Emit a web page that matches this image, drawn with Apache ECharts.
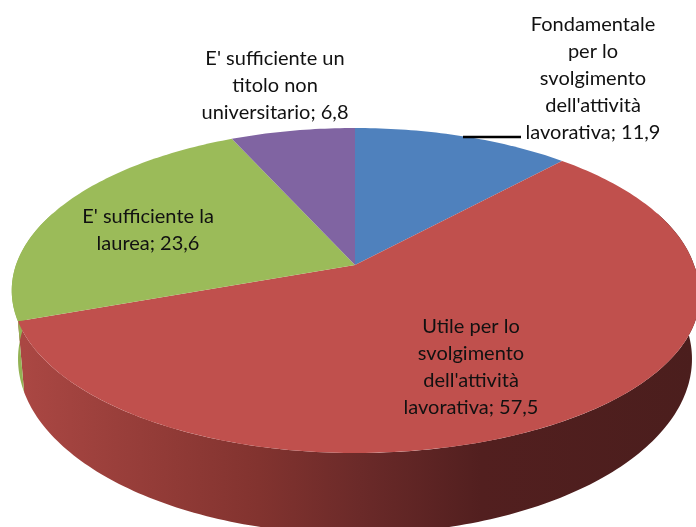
<!DOCTYPE html>
<html>
<head>
<meta charset="utf-8">
<style>html,body{margin:0;padding:0;background:#fff}#c{width:696px;height:527px}</style>
<script src="https://cdn.jsdelivr.net/npm/echarts@6/dist/echarts.min.js"></script>
</head>
<body>
<div id="c"></div>
<script>
// Data
const categories = [
  "Fondamentale\nper lo\nsvolgimento\ndell'attività\nlavorativa",
  "Utile per lo\nsvolgimento\ndell'attività\nlavorativa",
  "E' sufficiente la\nlaurea",
  "E' sufficiente un\ntitolo non\nuniversitario"
];
const values = [11.9, 57.5, 23.6, 6.8];

// Style and layout
const topColors = ['#4F81BD', '#C0504D', '#9BBB59', '#8064A2'];
const labelAnchors = [[593, 78.5], [471, 367.5], [148, 230.5], [275, 86]];
const topDisc = { cx: 355, cy: 265, a: 339, b: 158.5, k: 0.157, bulge: 10 };
const bottomDisc = { cx: 355, cy: 331.5, a: 332.8, b: 170.7, k: 0.157, bulge: 0 };
const frontArc = [70, 290];
const leader = [[463, 137], [521, 137]];
const redSide = [[0,'#AA4743'],[0.12,'#9C403C'],[0.35,'#82332F'],[0.5,'#6B2A29'],[0.68,'#521F1F'],[1,'#4B1E1D']];

const total = values.reduce((s, v) => s + v, 0);
const starts = [];
values.reduce((s, v, i) => { starts[i] = s; return s + v / total * 360; }, 0);

function project(disc, deg) {
  const r = deg * Math.PI / 180, u = Math.sin(r), v = Math.cos(r), w = 1 + disc.k * v;
  const extra = disc.bulge * Math.max(0, u) * Math.max(0, -v);
  return [disc.cx + disc.a * u / w + extra, disc.cy - disc.b * v / w];
}
function arc(disc, from, to) {
  const pts = [], n = Math.max(2, Math.ceil(Math.abs(to - from)));
  for (let i = 0; i <= n; i++) pts.push(project(disc, from + (to - from) * i / n));
  return pts;
}
const sideFill = {
  type: 'linear', x: 24, y: 0, x2: 696, y2: 0, global: true,
  colorStops: redSide.map(s => ({ offset: s[0], color: s[1] }))
};

function renderItem(params, api) {
  const i = params.dataIndex;
  const from = starts[i], to = from + api.value(1) / total * 360;
  const children = [];
  const sFrom = Math.max(from, frontArc[0]), sTo = Math.min(to, frontArc[1]);
  if (sTo > sFrom) {
    const pts = arc(topDisc, sFrom, sTo).concat(arc(bottomDisc, sFrom, sTo).reverse());
    children.push({
      type: 'polygon', z2: 1, shape: { points: pts },
      style: { fill: i === 1 ? sideFill : '#93B254' }
    });
  }
  children.push({
    type: 'polygon', z2: 5,
    shape: { points: [[topDisc.cx, topDisc.cy]].concat(arc(topDisc, from, to)) },
    style: { fill: topColors[i] }
  });
  if (i === 0) {
    children.push({
      type: 'line', z2: 8,
      shape: { x1: leader[0][0], y1: leader[0][1], x2: leader[1][0], y2: leader[1][1] },
      style: { stroke: '#000', lineWidth: 2.5 }
    });
  }
  children.push({
    type: 'text', z2: 10,
    style: {
      x: labelAnchors[i][0], y: labelAnchors[i][1],
      text: categories[i] + '; ' + String(api.value(1)).replace('.', ','),
      align: 'center', verticalAlign: 'middle', textAlign: 'center', textVerticalAlign: 'middle',
      font: '20px Lato', lineHeight: 27, fill: '#111'
    }
  });
  return { type: 'group', children };
}

const chart = echarts.init(document.getElementById('c'), null, { renderer: 'canvas' });
chart.setOption({
  animation: false,
  backgroundColor: '#fff',
  series: [{
    type: 'custom',
    coordinateSystem: 'none',
    renderItem,
    data: values.map((v, i) => [i, v]),
    silent: true
  }]
});
</script>
</body>
</html>
